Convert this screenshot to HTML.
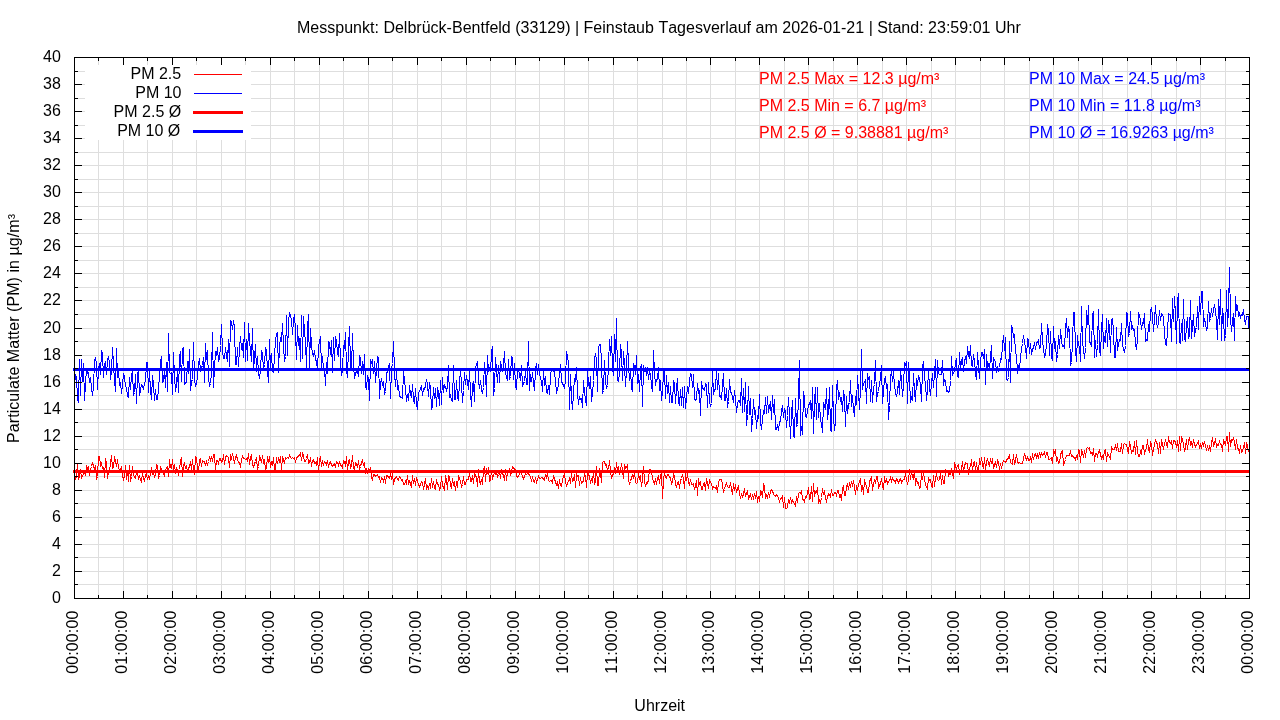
<!DOCTYPE html><html><head><meta charset="utf-8"><style>html,body{margin:0;padding:0;background:#fff;width:1280px;height:720px;overflow:hidden}svg{display:block;will-change:transform}text{font-family:"Liberation Sans",sans-serif;font-size:16px;font-kerning:none;font-feature-settings:"kern" 0}</style></head><body>
<svg width="1280" height="720" viewBox="0 0 1280 720">
<rect width="1280" height="720" fill="#fff"/>
<path d="M74.5 57.5V598.5M98.5 57.5V598.5M123.5 57.5V598.5M147.5 57.5V598.5M172.5 57.5V598.5M196.5 57.5V598.5M221.5 57.5V598.5M245.5 57.5V598.5M270.5 57.5V598.5M294.5 57.5V598.5M319.5 57.5V598.5M343.5 57.5V598.5M368.5 57.5V598.5M392.5 57.5V598.5M417.5 57.5V598.5M441.5 57.5V598.5M466.5 57.5V598.5M490.5 57.5V598.5M515.5 57.5V598.5M539.5 57.5V598.5M564.5 57.5V598.5M588.5 57.5V598.5M613.5 57.5V598.5M637.5 57.5V598.5M662.5 57.5V598.5M686.5 57.5V598.5M710.5 57.5V598.5M735.5 57.5V598.5M759.5 57.5V598.5M784.5 57.5V598.5M808.5 57.5V598.5M833.5 57.5V598.5M857.5 57.5V598.5M882.5 57.5V598.5M906.5 57.5V598.5M931.5 57.5V598.5M955.5 57.5V598.5M980.5 57.5V598.5M1004.5 57.5V598.5M1029.5 57.5V598.5M1053.5 57.5V598.5M1078.5 57.5V598.5M1102.5 57.5V598.5M1127.5 57.5V598.5M1151.5 57.5V598.5M1176.5 57.5V598.5M1200.5 57.5V598.5M1225.5 57.5V598.5M1249.5 57.5V598.5M74.5 598.5H1249.5M74.5 584.5H1249.5M74.5 571.5H1249.5M74.5 557.5H1249.5M74.5 544.5H1249.5M74.5 530.5H1249.5M74.5 517.5H1249.5M74.5 503.5H1249.5M74.5 490.5H1249.5M74.5 476.5H1249.5M74.5 463.5H1249.5M74.5 449.5H1249.5M74.5 436.5H1249.5M74.5 422.5H1249.5M74.5 409.5H1249.5M74.5 395.5H1249.5M74.5 382.5H1249.5M74.5 368.5H1249.5M74.5 355.5H1249.5M74.5 341.5H1249.5M74.5 328.5H1249.5M74.5 314.5H1249.5M74.5 300.5H1249.5M74.5 287.5H1249.5M74.5 273.5H1249.5M74.5 260.5H1249.5M74.5 246.5H1249.5M74.5 233.5H1249.5M74.5 219.5H1249.5M74.5 206.5H1249.5M74.5 192.5H1249.5M74.5 179.5H1249.5M74.5 165.5H1249.5M74.5 152.5H1249.5M74.5 138.5H1249.5M74.5 125.5H1249.5M74.5 111.5H1249.5M74.5 98.5H1249.5M74.5 84.5H1249.5M74.5 71.5H1249.5M74.5 57.5H1249.5" stroke="#dedede" stroke-width="1" fill="none" shape-rendering="crispEdges"/>
<polyline points="74.5,475.5 75.5,479.5 76.5,475.5 77.5,463.5 78.5,479.5 79.5,476.5 80.5,469.5 81.5,477.5 82.5,475.5 83.5,474.5 84.5,471.5 85.5,475.5 86.5,465.5 87.5,469.5 88.5,466.5 89.5,475.5 90.5,469.5 91.5,466.5 92.5,462.5 93.5,466.5 94.5,468.5 95.5,466.5 96.5,479.5 97.5,476.5 98.5,456.5 99.5,456.5 100.5,465.5 101.5,463.5 102.5,468.5 103.5,467.5 104.5,477.5 105.5,458.5 106.5,463.5 107.5,478.5 108.5,471.5 109.5,472.5 110.5,462.5 111.5,455.5 112.5,468.5 113.5,467.5 114.5,456.5 115.5,461.5 116.5,466.5 117.5,459.5 118.5,467.5 119.5,470.5 120.5,470.5 121.5,466.5 122.5,476.5 123.5,479.5 124.5,475.5 125.5,465.5 126.5,479.5 127.5,470.5 128.5,481.5 129.5,465.5 130.5,481.5 131.5,476.5 132.5,466.5 133.5,474.5 134.5,477.5 135.5,478.5 136.5,472.5 137.5,472.5 138.5,479.5 139.5,476.5 140.5,479.5 141.5,481.5 142.5,473.5 143.5,478.5 144.5,481.5 145.5,475.5 146.5,473.5 147.5,479.5 148.5,476.5 149.5,479.5 150.5,473.5 151.5,467.5 152.5,473.5 153.5,471.5 154.5,477.5 155.5,473.5 156.5,464.5 157.5,465.5 158.5,477.5 159.5,475.5 160.5,466.5 161.5,469.5 162.5,472.5 163.5,472.5 164.5,476.5 165.5,470.5 166.5,467.5 167.5,466.5 168.5,476.5 169.5,459.5 170.5,467.5 171.5,468.5 172.5,459.5 173.5,470.5 174.5,464.5 175.5,473.5 176.5,467.5 177.5,471.5 178.5,474.5 179.5,469.5 180.5,461.5 181.5,457.5 182.5,476.5 183.5,466.5 184.5,462.5 185.5,468.5 186.5,465.5 187.5,472.5 188.5,467.5 189.5,467.5 190.5,461.5 191.5,469.5 192.5,459.5 193.5,469.5 194.5,474.5 195.5,456.5 196.5,457.5 197.5,468.5 198.5,472.5 199.5,459.5 200.5,458.5 201.5,466.5 202.5,460.5 203.5,461.5 204.5,461.5 205.5,465.5 206.5,461.5 207.5,464.5 208.5,461.5 209.5,457.5 210.5,460.5 211.5,456.5 212.5,461.5 213.5,454.5 214.5,454.5 215.5,470.5 216.5,460.5 217.5,460.5 218.5,463.5 219.5,458.5 220.5,458.5 221.5,462.5 222.5,461.5 223.5,454.5 224.5,464.5 225.5,457.5 226.5,455.5 227.5,456.5 228.5,457.5 229.5,467.5 230.5,454.5 231.5,459.5 232.5,453.5 233.5,458.5 234.5,463.5 235.5,457.5 236.5,455.5 237.5,459.5 238.5,462.5 239.5,462.5 240.5,467.5 241.5,459.5 242.5,456.5 243.5,458.5 244.5,458.5 245.5,459.5 246.5,458.5 247.5,460.5 248.5,453.5 249.5,464.5 250.5,457.5 251.5,455.5 252.5,463.5 253.5,467.5 254.5,463.5 255.5,461.5 256.5,457.5 257.5,469.5 258.5,466.5 259.5,456.5 260.5,458.5 261.5,462.5 262.5,455.5 263.5,462.5 264.5,460.5 265.5,469.5 266.5,467.5 267.5,456.5 268.5,462.5 269.5,456.5 270.5,467.5 271.5,462.5 272.5,464.5 273.5,457.5 274.5,469.5 275.5,469.5 276.5,457.5 277.5,463.5 278.5,458.5 279.5,461.5 280.5,456.5 281.5,469.5 282.5,457.5 283.5,459.5 284.5,463.5 285.5,457.5 286.5,458.5 287.5,457.5 288.5,458.5 289.5,455.5 290.5,457.5 291.5,458.5 292.5,457.5 293.5,458.5 294.5,457.5 295.5,462.5 296.5,457.5 297.5,457.5 298.5,455.5 299.5,455.5 300.5,452.5 301.5,460.5 302.5,453.5 303.5,455.5 304.5,461.5 305.5,461.5 306.5,458.5 307.5,454.5 308.5,463.5 309.5,462.5 310.5,457.5 311.5,466.5 312.5,460.5 313.5,459.5 314.5,463.5 315.5,462.5 316.5,464.5 317.5,457.5 318.5,471.5 319.5,460.5 320.5,456.5 321.5,466.5 322.5,461.5 323.5,464.5 324.5,461.5 325.5,462.5 326.5,464.5 327.5,460.5 328.5,467.5 329.5,462.5 330.5,461.5 331.5,465.5 332.5,466.5 333.5,464.5 334.5,463.5 335.5,467.5 336.5,461.5 337.5,462.5 338.5,465.5 339.5,461.5 340.5,465.5 341.5,465.5 342.5,468.5 343.5,460.5 344.5,461.5 345.5,466.5 346.5,456.5 347.5,471.5 348.5,460.5 349.5,459.5 350.5,468.5 351.5,464.5 352.5,455.5 353.5,467.5 354.5,469.5 355.5,462.5 356.5,463.5 357.5,467.5 358.5,460.5 359.5,468.5 360.5,466.5 361.5,462.5 362.5,459.5 363.5,465.5 364.5,462.5 365.5,473.5 366.5,468.5 367.5,472.5 368.5,469.5 369.5,471.5 370.5,467.5 371.5,476.5 372.5,480.5 373.5,474.5 374.5,474.5 375.5,476.5 376.5,475.5 377.5,474.5 378.5,477.5 379.5,476.5 380.5,482.5 381.5,477.5 382.5,478.5 383.5,481.5 384.5,476.5 385.5,483.5 386.5,475.5 387.5,475.5 388.5,477.5 389.5,478.5 390.5,473.5 391.5,479.5 392.5,473.5 393.5,484.5 394.5,479.5 395.5,477.5 396.5,476.5 397.5,479.5 398.5,480.5 399.5,476.5 400.5,477.5 401.5,480.5 402.5,479.5 403.5,484.5 404.5,484.5 405.5,481.5 406.5,483.5 407.5,475.5 408.5,483.5 409.5,481.5 410.5,483.5 411.5,487.5 412.5,475.5 413.5,483.5 414.5,478.5 415.5,485.5 416.5,477.5 417.5,481.5 418.5,484.5 419.5,486.5 420.5,484.5 421.5,481.5 422.5,482.5 423.5,489.5 424.5,484.5 425.5,478.5 426.5,488.5 427.5,486.5 428.5,489.5 429.5,483.5 430.5,488.5 431.5,478.5 432.5,487.5 433.5,481.5 434.5,488.5 435.5,489.5 436.5,479.5 437.5,484.5 438.5,484.5 439.5,489.5 440.5,487.5 441.5,476.5 442.5,485.5 443.5,487.5 444.5,490.5 445.5,475.5 446.5,480.5 447.5,489.5 448.5,475.5 449.5,476.5 450.5,485.5 451.5,487.5 452.5,478.5 453.5,484.5 454.5,482.5 455.5,490.5 456.5,481.5 457.5,487.5 458.5,475.5 459.5,479.5 460.5,480.5 461.5,487.5 462.5,484.5 463.5,476.5 464.5,484.5 465.5,484.5 466.5,479.5 467.5,479.5 468.5,479.5 469.5,472.5 470.5,481.5 471.5,481.5 472.5,475.5 473.5,483.5 474.5,472.5 475.5,476.5 476.5,476.5 477.5,486.5 478.5,469.5 479.5,481.5 480.5,483.5 481.5,479.5 482.5,484.5 483.5,470.5 484.5,466.5 485.5,481.5 486.5,468.5 487.5,473.5 488.5,467.5 489.5,481.5 490.5,480.5 491.5,470.5 492.5,479.5 493.5,474.5 494.5,473.5 495.5,474.5 496.5,472.5 497.5,476.5 498.5,474.5 499.5,470.5 500.5,478.5 501.5,469.5 502.5,474.5 503.5,474.5 504.5,480.5 505.5,469.5 506.5,480.5 507.5,472.5 508.5,471.5 509.5,468.5 510.5,475.5 511.5,472.5 512.5,466.5 513.5,467.5 514.5,469.5 515.5,469.5 516.5,476.5 517.5,477.5 518.5,475.5 519.5,474.5 520.5,471.5 521.5,473.5 522.5,476.5 523.5,478.5 524.5,476.5 525.5,473.5 526.5,474.5 527.5,473.5 528.5,473.5 529.5,475.5 530.5,476.5 531.5,481.5 532.5,476.5 533.5,481.5 534.5,482.5 535.5,477.5 536.5,482.5 537.5,479.5 538.5,476.5 539.5,478.5 540.5,478.5 541.5,477.5 542.5,477.5 543.5,479.5 544.5,480.5 545.5,474.5 546.5,478.5 547.5,472.5 548.5,480.5 549.5,481.5 550.5,480.5 551.5,480.5 552.5,482.5 553.5,476.5 554.5,478.5 555.5,482.5 556.5,484.5 557.5,482.5 558.5,488.5 559.5,479.5 560.5,485.5 561.5,486.5 562.5,479.5 563.5,476.5 564.5,474.5 565.5,481.5 566.5,486.5 567.5,482.5 568.5,481.5 569.5,478.5 570.5,483.5 571.5,473.5 572.5,481.5 573.5,480.5 574.5,474.5 575.5,487.5 576.5,474.5 577.5,476.5 578.5,475.5 579.5,485.5 580.5,477.5 581.5,483.5 582.5,482.5 583.5,480.5 584.5,474.5 585.5,476.5 586.5,487.5 587.5,472.5 588.5,474.5 589.5,476.5 590.5,483.5 591.5,478.5 592.5,482.5 593.5,470.5 594.5,484.5 595.5,480.5 596.5,466.5 597.5,485.5 598.5,485.5 599.5,468.5 600.5,472.5 601.5,482.5 602.5,462.5 603.5,461.5 604.5,461.5 605.5,465.5 606.5,464.5 607.5,471.5 608.5,469.5 609.5,460.5 610.5,471.5 611.5,477.5 612.5,475.5 613.5,473.5 614.5,467.5 615.5,473.5 616.5,462.5 617.5,471.5 618.5,466.5 619.5,474.5 620.5,471.5 621.5,463.5 622.5,470.5 623.5,478.5 624.5,464.5 625.5,468.5 626.5,467.5 627.5,464.5 628.5,480.5 629.5,483.5 630.5,481.5 631.5,477.5 632.5,475.5 633.5,478.5 634.5,471.5 635.5,482.5 636.5,483.5 637.5,482.5 638.5,473.5 639.5,478.5 640.5,476.5 641.5,486.5 642.5,479.5 643.5,466.5 644.5,480.5 645.5,486.5 646.5,482.5 647.5,483.5 648.5,479.5 649.5,469.5 650.5,469.5 651.5,471.5 652.5,478.5 653.5,481.5 654.5,483.5 655.5,478.5 656.5,484.5 657.5,478.5 658.5,476.5 659.5,483.5 660.5,475.5 661.5,473.5 662.5,498.5 663.5,479.5 664.5,473.5 665.5,477.5 666.5,478.5 667.5,474.5 668.5,474.5 669.5,477.5 670.5,477.5 671.5,484.5 672.5,481.5 673.5,474.5 674.5,476.5 675.5,483.5 676.5,487.5 677.5,482.5 678.5,481.5 679.5,488.5 680.5,480.5 681.5,478.5 682.5,474.5 683.5,478.5 684.5,488.5 685.5,473.5 686.5,480.5 687.5,473.5 688.5,481.5 689.5,485.5 690.5,479.5 691.5,484.5 692.5,484.5 693.5,483.5 694.5,489.5 695.5,485.5 696.5,480.5 697.5,495.5 698.5,478.5 699.5,484.5 700.5,481.5 701.5,489.5 702.5,489.5 703.5,483.5 704.5,482.5 705.5,490.5 706.5,478.5 707.5,482.5 708.5,488.5 709.5,480.5 710.5,482.5 711.5,483.5 712.5,488.5 713.5,486.5 714.5,487.5 715.5,488.5 716.5,486.5 717.5,492.5 718.5,482.5 719.5,479.5 720.5,479.5 721.5,479.5 722.5,484.5 723.5,492.5 724.5,489.5 725.5,485.5 726.5,483.5 727.5,486.5 728.5,487.5 729.5,487.5 730.5,482.5 731.5,488.5 732.5,494.5 733.5,483.5 734.5,490.5 735.5,484.5 736.5,492.5 737.5,488.5 738.5,485.5 739.5,493.5 740.5,498.5 741.5,493.5 742.5,497.5 743.5,493.5 744.5,488.5 745.5,496.5 746.5,493.5 747.5,490.5 748.5,498.5 749.5,496.5 750.5,494.5 751.5,499.5 752.5,494.5 753.5,499.5 754.5,493.5 755.5,498.5 756.5,491.5 757.5,502.5 758.5,496.5 759.5,501.5 760.5,490.5 761.5,491.5 762.5,497.5 763.5,484.5 764.5,486.5 765.5,498.5 766.5,495.5 767.5,498.5 768.5,492.5 769.5,497.5 770.5,491.5 771.5,489.5 772.5,490.5 773.5,494.5 774.5,495.5 775.5,496.5 776.5,494.5 777.5,495.5 778.5,498.5 779.5,501.5 780.5,498.5 781.5,498.5 782.5,496.5 783.5,507.5 784.5,497.5 785.5,508.5 786.5,508.5 787.5,507.5 788.5,499.5 789.5,502.5 790.5,497.5 791.5,502.5 792.5,500.5 793.5,502.5 794.5,503.5 795.5,505.5 796.5,496.5 797.5,502.5 798.5,493.5 799.5,492.5 800.5,493.5 801.5,490.5 802.5,499.5 803.5,499.5 804.5,501.5 805.5,496.5 806.5,497.5 807.5,492.5 808.5,487.5 809.5,499.5 810.5,498.5 811.5,486.5 812.5,501.5 813.5,483.5 814.5,496.5 815.5,491.5 816.5,492.5 817.5,487.5 818.5,502.5 819.5,500.5 820.5,503.5 821.5,497.5 822.5,488.5 823.5,494.5 824.5,490.5 825.5,498.5 826.5,501.5 827.5,497.5 828.5,493.5 829.5,494.5 830.5,496.5 831.5,489.5 832.5,495.5 833.5,495.5 834.5,492.5 835.5,492.5 836.5,495.5 837.5,490.5 838.5,490.5 839.5,497.5 840.5,494.5 841.5,500.5 842.5,488.5 843.5,485.5 844.5,495.5 845.5,495.5 846.5,487.5 847.5,483.5 848.5,489.5 849.5,482.5 850.5,487.5 851.5,481.5 852.5,486.5 853.5,480.5 854.5,486.5 855.5,494.5 856.5,485.5 857.5,490.5 858.5,483.5 859.5,482.5 860.5,478.5 861.5,491.5 862.5,485.5 863.5,494.5 864.5,479.5 865.5,484.5 866.5,485.5 867.5,492.5 868.5,492.5 869.5,481.5 870.5,479.5 871.5,477.5 872.5,490.5 873.5,483.5 874.5,480.5 875.5,483.5 876.5,476.5 877.5,476.5 878.5,487.5 879.5,485.5 880.5,483.5 881.5,478.5 882.5,485.5 883.5,489.5 884.5,476.5 885.5,482.5 886.5,479.5 887.5,483.5 888.5,481.5 889.5,480.5 890.5,477.5 891.5,481.5 892.5,478.5 893.5,480.5 894.5,480.5 895.5,482.5 896.5,478.5 897.5,479.5 898.5,483.5 899.5,479.5 900.5,478.5 901.5,482.5 902.5,480.5 903.5,479.5 904.5,479.5 905.5,472.5 906.5,480.5 907.5,483.5 908.5,480.5 909.5,469.5 910.5,479.5 911.5,471.5 912.5,476.5 913.5,478.5 914.5,470.5 915.5,485.5 916.5,478.5 917.5,483.5 918.5,482.5 919.5,488.5 920.5,487.5 921.5,472.5 922.5,479.5 923.5,473.5 924.5,478.5 925.5,485.5 926.5,486.5 927.5,489.5 928.5,477.5 929.5,480.5 930.5,479.5 931.5,486.5 932.5,487.5 933.5,475.5 934.5,486.5 935.5,477.5 936.5,474.5 937.5,479.5 938.5,480.5 939.5,479.5 940.5,472.5 941.5,484.5 942.5,475.5 943.5,483.5 944.5,483.5 945.5,469.5 946.5,470.5 947.5,470.5 948.5,475.5 949.5,473.5 950.5,474.5 951.5,468.5 952.5,473.5 953.5,478.5 954.5,462.5 955.5,466.5 956.5,468.5 957.5,465.5 958.5,464.5 959.5,473.5 960.5,471.5 961.5,468.5 962.5,461.5 963.5,472.5 964.5,466.5 965.5,462.5 966.5,463.5 967.5,463.5 968.5,474.5 969.5,467.5 970.5,466.5 971.5,459.5 972.5,471.5 973.5,462.5 974.5,461.5 975.5,470.5 976.5,462.5 977.5,470.5 978.5,471.5 979.5,458.5 980.5,464.5 981.5,457.5 982.5,464.5 983.5,468.5 984.5,457.5 985.5,470.5 986.5,462.5 987.5,458.5 988.5,463.5 989.5,466.5 990.5,458.5 991.5,463.5 992.5,458.5 993.5,468.5 994.5,464.5 995.5,462.5 996.5,467.5 997.5,460.5 998.5,462.5 999.5,469.5 1000.5,463.5 1001.5,468.5 1002.5,463.5 1003.5,460.5 1004.5,461.5 1005.5,462.5 1006.5,460.5 1007.5,458.5 1008.5,458.5 1009.5,454.5 1010.5,462.5 1011.5,463.5 1012.5,464.5 1013.5,454.5 1014.5,464.5 1015.5,460.5 1016.5,454.5 1017.5,461.5 1018.5,463.5 1019.5,462.5 1020.5,463.5 1021.5,463.5 1022.5,463.5 1023.5,459.5 1024.5,453.5 1025.5,456.5 1026.5,460.5 1027.5,456.5 1028.5,460.5 1029.5,460.5 1030.5,457.5 1031.5,462.5 1032.5,453.5 1033.5,459.5 1034.5,454.5 1035.5,453.5 1036.5,457.5 1037.5,454.5 1038.5,458.5 1039.5,452.5 1040.5,456.5 1041.5,453.5 1042.5,455.5 1043.5,454.5 1044.5,452.5 1045.5,457.5 1046.5,452.5 1047.5,452.5 1048.5,459.5 1049.5,459.5 1050.5,458.5 1051.5,457.5 1052.5,463.5 1053.5,450.5 1054.5,452.5 1055.5,450.5 1056.5,461.5 1057.5,458.5 1058.5,463.5 1059.5,462.5 1060.5,455.5 1061.5,451.5 1062.5,450.5 1063.5,465.5 1064.5,462.5 1065.5,459.5 1066.5,455.5 1067.5,455.5 1068.5,455.5 1069.5,455.5 1070.5,450.5 1071.5,456.5 1072.5,455.5 1073.5,457.5 1074.5,457.5 1075.5,459.5 1076.5,455.5 1077.5,459.5 1078.5,449.5 1079.5,450.5 1080.5,462.5 1081.5,450.5 1082.5,452.5 1083.5,457.5 1084.5,450.5 1085.5,457.5 1086.5,448.5 1087.5,447.5 1088.5,448.5 1089.5,447.5 1090.5,453.5 1091.5,452.5 1092.5,455.5 1093.5,448.5 1094.5,461.5 1095.5,453.5 1096.5,453.5 1097.5,456.5 1098.5,452.5 1099.5,450.5 1100.5,454.5 1101.5,458.5 1102.5,456.5 1103.5,458.5 1104.5,450.5 1105.5,449.5 1106.5,461.5 1107.5,452.5 1108.5,455.5 1109.5,456.5 1110.5,459.5 1111.5,446.5 1112.5,449.5 1113.5,449.5 1114.5,449.5 1115.5,444.5 1116.5,450.5 1117.5,443.5 1118.5,451.5 1119.5,451.5 1120.5,451.5 1121.5,443.5 1122.5,453.5 1123.5,444.5 1124.5,443.5 1125.5,444.5 1126.5,444.5 1127.5,449.5 1128.5,453.5 1129.5,441.5 1130.5,446.5 1131.5,453.5 1132.5,450.5 1133.5,451.5 1134.5,441.5 1135.5,454.5 1136.5,440.5 1137.5,450.5 1138.5,456.5 1139.5,456.5 1140.5,451.5 1141.5,453.5 1142.5,445.5 1143.5,445.5 1144.5,454.5 1145.5,449.5 1146.5,448.5 1147.5,439.5 1148.5,449.5 1149.5,451.5 1150.5,442.5 1151.5,444.5 1152.5,455.5 1153.5,448.5 1154.5,445.5 1155.5,439.5 1156.5,442.5 1157.5,444.5 1158.5,453.5 1159.5,442.5 1160.5,453.5 1161.5,439.5 1162.5,443.5 1163.5,449.5 1164.5,443.5 1165.5,440.5 1166.5,443.5 1167.5,447.5 1168.5,436.5 1169.5,442.5 1170.5,443.5 1171.5,441.5 1172.5,448.5 1173.5,440.5 1174.5,440.5 1175.5,442.5 1176.5,447.5 1177.5,440.5 1178.5,451.5 1179.5,436.5 1180.5,450.5 1181.5,436.5 1182.5,440.5 1183.5,443.5 1184.5,451.5 1185.5,447.5 1186.5,439.5 1187.5,449.5 1188.5,440.5 1189.5,437.5 1190.5,444.5 1191.5,442.5 1192.5,447.5 1193.5,439.5 1194.5,444.5 1195.5,446.5 1196.5,444.5 1197.5,443.5 1198.5,440.5 1199.5,448.5 1200.5,444.5 1201.5,447.5 1202.5,443.5 1203.5,445.5 1204.5,441.5 1205.5,446.5 1206.5,449.5 1207.5,446.5 1208.5,449.5 1209.5,446.5 1210.5,451.5 1211.5,443.5 1212.5,437.5 1213.5,446.5 1214.5,443.5 1215.5,438.5 1216.5,446.5 1217.5,444.5 1218.5,445.5 1219.5,441.5 1220.5,444.5 1221.5,444.5 1222.5,451.5 1223.5,439.5 1224.5,442.5 1225.5,445.5 1226.5,436.5 1227.5,436.5 1228.5,451.5 1229.5,432.5 1230.5,446.5 1231.5,439.5 1232.5,440.5 1233.5,438.5 1234.5,441.5 1235.5,449.5 1236.5,439.5 1237.5,448.5 1238.5,448.5 1239.5,453.5 1240.5,445.5 1241.5,452.5 1242.5,451.5 1243.5,447.5 1244.5,442.5 1245.5,453.5 1246.5,442.5 1247.5,446.5 1248.5,451.5 1249.5,452.5" fill="none" stroke="#ff0000" stroke-width="1" shape-rendering="crispEdges"/>
<polyline points="74.5,367.5 75.5,379.5 76.5,376.5 77.5,399.5 78.5,402.5 79.5,359.5 80.5,395.5 81.5,359.5 82.5,381.5 83.5,363.5 84.5,400.5 85.5,383.5 86.5,369.5 87.5,373.5 88.5,372.5 89.5,382.5 90.5,377.5 91.5,387.5 92.5,395.5 93.5,387.5 94.5,360.5 95.5,357.5 96.5,364.5 97.5,389.5 98.5,369.5 99.5,363.5 100.5,374.5 101.5,350.5 102.5,353.5 103.5,377.5 104.5,364.5 105.5,361.5 106.5,374.5 107.5,359.5 108.5,357.5 109.5,361.5 110.5,379.5 111.5,371.5 112.5,347.5 113.5,364.5 114.5,380.5 115.5,391.5 116.5,348.5 117.5,377.5 118.5,369.5 119.5,385.5 120.5,382.5 121.5,393.5 122.5,384.5 123.5,374.5 124.5,376.5 125.5,386.5 126.5,387.5 127.5,396.5 128.5,397.5 129.5,377.5 130.5,389.5 131.5,374.5 132.5,372.5 133.5,394.5 134.5,392.5 135.5,374.5 136.5,403.5 137.5,373.5 138.5,370.5 139.5,395.5 140.5,390.5 141.5,384.5 142.5,385.5 143.5,389.5 144.5,382.5 145.5,381.5 146.5,362.5 147.5,362.5 148.5,392.5 149.5,371.5 150.5,390.5 151.5,399.5 152.5,375.5 153.5,384.5 154.5,400.5 155.5,389.5 156.5,399.5 157.5,399.5 158.5,389.5 159.5,374.5 160.5,361.5 161.5,356.5 162.5,382.5 163.5,381.5 164.5,369.5 165.5,387.5 166.5,362.5 167.5,391.5 168.5,333.5 169.5,372.5 170.5,373.5 171.5,372.5 172.5,394.5 173.5,352.5 174.5,376.5 175.5,391.5 176.5,384.5 177.5,370.5 178.5,392.5 179.5,356.5 180.5,351.5 181.5,381.5 182.5,348.5 183.5,347.5 184.5,384.5 185.5,382.5 186.5,382.5 187.5,361.5 188.5,373.5 189.5,349.5 190.5,390.5 191.5,381.5 192.5,379.5 193.5,342.5 194.5,378.5 195.5,386.5 196.5,383.5 197.5,376.5 198.5,364.5 199.5,358.5 200.5,371.5 201.5,367.5 202.5,365.5 203.5,357.5 204.5,382.5 205.5,343.5 206.5,359.5 207.5,350.5 208.5,378.5 209.5,385.5 210.5,383.5 211.5,373.5 212.5,332.5 213.5,387.5 214.5,367.5 215.5,352.5 216.5,354.5 217.5,347.5 218.5,361.5 219.5,358.5 220.5,345.5 221.5,324.5 222.5,351.5 223.5,358.5 224.5,358.5 225.5,347.5 226.5,355.5 227.5,361.5 228.5,339.5 229.5,366.5 230.5,320.5 231.5,322.5 232.5,329.5 233.5,320.5 234.5,327.5 235.5,364.5 236.5,364.5 237.5,347.5 238.5,366.5 239.5,348.5 240.5,336.5 241.5,349.5 242.5,343.5 243.5,357.5 244.5,322.5 245.5,361.5 246.5,339.5 247.5,360.5 248.5,323.5 249.5,341.5 250.5,350.5 251.5,361.5 252.5,328.5 253.5,370.5 254.5,358.5 255.5,344.5 256.5,371.5 257.5,356.5 258.5,373.5 259.5,378.5 260.5,369.5 261.5,350.5 262.5,353.5 263.5,369.5 264.5,364.5 265.5,348.5 266.5,350.5 267.5,370.5 268.5,382.5 269.5,339.5 270.5,370.5 271.5,353.5 272.5,371.5 273.5,372.5 274.5,356.5 275.5,340.5 276.5,334.5 277.5,332.5 278.5,372.5 279.5,345.5 280.5,338.5 281.5,340.5 282.5,323.5 283.5,346.5 284.5,361.5 285.5,356.5 286.5,315.5 287.5,355.5 288.5,321.5 289.5,313.5 290.5,315.5 291.5,319.5 292.5,334.5 293.5,319.5 294.5,314.5 295.5,331.5 296.5,359.5 297.5,325.5 298.5,345.5 299.5,338.5 300.5,361.5 301.5,315.5 302.5,358.5 303.5,316.5 304.5,330.5 305.5,342.5 306.5,367.5 307.5,328.5 308.5,314.5 309.5,368.5 310.5,328.5 311.5,345.5 312.5,353.5 313.5,356.5 314.5,350.5 315.5,359.5 316.5,361.5 317.5,369.5 318.5,346.5 319.5,341.5 320.5,336.5 321.5,368.5 322.5,356.5 323.5,368.5 324.5,368.5 325.5,385.5 326.5,362.5 327.5,373.5 328.5,341.5 329.5,343.5 330.5,354.5 331.5,340.5 332.5,372.5 333.5,337.5 334.5,360.5 335.5,336.5 336.5,340.5 337.5,353.5 338.5,355.5 339.5,333.5 340.5,362.5 341.5,375.5 342.5,370.5 343.5,345.5 344.5,347.5 345.5,332.5 346.5,369.5 347.5,377.5 348.5,347.5 349.5,326.5 350.5,364.5 351.5,370.5 352.5,333.5 353.5,365.5 354.5,378.5 355.5,373.5 356.5,371.5 357.5,370.5 358.5,376.5 359.5,356.5 360.5,358.5 361.5,373.5 362.5,361.5 363.5,374.5 364.5,354.5 365.5,386.5 366.5,389.5 367.5,375.5 368.5,378.5 369.5,400.5 370.5,359.5 371.5,362.5 372.5,359.5 373.5,373.5 374.5,361.5 375.5,382.5 376.5,369.5 377.5,356.5 378.5,357.5 379.5,398.5 380.5,382.5 381.5,379.5 382.5,384.5 383.5,382.5 384.5,393.5 385.5,391.5 386.5,374.5 387.5,370.5 388.5,366.5 389.5,363.5 390.5,398.5 391.5,369.5 392.5,363.5 393.5,341.5 394.5,372.5 395.5,386.5 396.5,371.5 397.5,388.5 398.5,386.5 399.5,395.5 400.5,397.5 401.5,397.5 402.5,398.5 403.5,371.5 404.5,380.5 405.5,388.5 406.5,401.5 407.5,394.5 408.5,400.5 409.5,385.5 410.5,394.5 411.5,397.5 412.5,384.5 413.5,399.5 414.5,403.5 415.5,388.5 416.5,404.5 417.5,409.5 418.5,392.5 419.5,391.5 420.5,388.5 421.5,385.5 422.5,395.5 423.5,388.5 424.5,389.5 425.5,385.5 426.5,379.5 427.5,384.5 428.5,396.5 429.5,382.5 430.5,387.5 431.5,409.5 432.5,405.5 433.5,387.5 434.5,398.5 435.5,388.5 436.5,406.5 437.5,387.5 438.5,392.5 439.5,405.5 440.5,380.5 441.5,404.5 442.5,377.5 443.5,392.5 444.5,384.5 445.5,387.5 446.5,390.5 447.5,386.5 448.5,365.5 449.5,397.5 450.5,395.5 451.5,400.5 452.5,401.5 453.5,365.5 454.5,399.5 455.5,399.5 456.5,380.5 457.5,396.5 458.5,400.5 459.5,381.5 460.5,370.5 461.5,383.5 462.5,402.5 463.5,390.5 464.5,372.5 465.5,384.5 466.5,375.5 467.5,382.5 468.5,389.5 469.5,370.5 470.5,392.5 471.5,406.5 472.5,385.5 473.5,381.5 474.5,401.5 475.5,366.5 476.5,365.5 477.5,361.5 478.5,380.5 479.5,388.5 480.5,380.5 481.5,389.5 482.5,393.5 483.5,387.5 484.5,362.5 485.5,373.5 486.5,396.5 487.5,355.5 488.5,371.5 489.5,367.5 490.5,371.5 491.5,352.5 492.5,346.5 493.5,395.5 494.5,388.5 495.5,357.5 496.5,370.5 497.5,382.5 498.5,365.5 499.5,382.5 500.5,361.5 501.5,366.5 502.5,371.5 503.5,365.5 504.5,351.5 505.5,373.5 506.5,376.5 507.5,380.5 508.5,359.5 509.5,378.5 510.5,376.5 511.5,356.5 512.5,357.5 513.5,379.5 514.5,363.5 515.5,385.5 516.5,389.5 517.5,368.5 518.5,368.5 519.5,374.5 520.5,380.5 521.5,365.5 522.5,385.5 523.5,383.5 524.5,381.5 525.5,371.5 526.5,384.5 527.5,384.5 528.5,341.5 529.5,390.5 530.5,374.5 531.5,381.5 532.5,372.5 533.5,382.5 534.5,390.5 535.5,369.5 536.5,363.5 537.5,374.5 538.5,364.5 539.5,371.5 540.5,379.5 541.5,380.5 542.5,391.5 543.5,369.5 544.5,385.5 545.5,376.5 546.5,392.5 547.5,393.5 548.5,385.5 549.5,394.5 550.5,376.5 551.5,368.5 552.5,369.5 553.5,369.5 554.5,373.5 555.5,379.5 556.5,393.5 557.5,388.5 558.5,385.5 559.5,371.5 560.5,364.5 561.5,381.5 562.5,383.5 563.5,385.5 564.5,388.5 565.5,380.5 566.5,351.5 567.5,356.5 568.5,363.5 569.5,409.5 570.5,374.5 571.5,397.5 572.5,409.5 573.5,392.5 574.5,378.5 575.5,381.5 576.5,367.5 577.5,392.5 578.5,404.5 579.5,396.5 580.5,399.5 581.5,398.5 582.5,407.5 583.5,380.5 584.5,392.5 585.5,399.5 586.5,405.5 587.5,370.5 588.5,383.5 589.5,388.5 590.5,376.5 591.5,401.5 592.5,393.5 593.5,380.5 594.5,357.5 595.5,354.5 596.5,359.5 597.5,391.5 598.5,347.5 599.5,344.5 600.5,344.5 601.5,361.5 602.5,393.5 603.5,390.5 604.5,360.5 605.5,382.5 606.5,387.5 607.5,385.5 608.5,364.5 609.5,339.5 610.5,355.5 611.5,336.5 612.5,368.5 613.5,375.5 614.5,334.5 615.5,361.5 616.5,318.5 617.5,380.5 618.5,381.5 619.5,372.5 620.5,344.5 621.5,353.5 622.5,380.5 623.5,351.5 624.5,364.5 625.5,386.5 626.5,369.5 627.5,341.5 628.5,364.5 629.5,380.5 630.5,369.5 631.5,388.5 632.5,391.5 633.5,363.5 634.5,366.5 635.5,374.5 636.5,355.5 637.5,383.5 638.5,374.5 639.5,391.5 640.5,368.5 641.5,364.5 642.5,406.5 643.5,365.5 644.5,370.5 645.5,368.5 646.5,375.5 647.5,367.5 648.5,379.5 649.5,370.5 650.5,374.5 651.5,385.5 652.5,391.5 653.5,350.5 654.5,372.5 655.5,385.5 656.5,379.5 657.5,379.5 658.5,367.5 659.5,390.5 660.5,380.5 661.5,400.5 662.5,391.5 663.5,372.5 664.5,370.5 665.5,398.5 666.5,375.5 667.5,393.5 668.5,382.5 669.5,402.5 670.5,386.5 671.5,402.5 672.5,402.5 673.5,381.5 674.5,383.5 675.5,403.5 676.5,388.5 677.5,378.5 678.5,402.5 679.5,404.5 680.5,389.5 681.5,405.5 682.5,387.5 683.5,407.5 684.5,386.5 685.5,408.5 686.5,397.5 687.5,386.5 688.5,393.5 689.5,381.5 690.5,373.5 691.5,374.5 692.5,387.5 693.5,374.5 694.5,398.5 695.5,400.5 696.5,399.5 697.5,383.5 698.5,392.5 699.5,390.5 700.5,415.5 701.5,381.5 702.5,387.5 703.5,389.5 704.5,390.5 705.5,383.5 706.5,384.5 707.5,407.5 708.5,382.5 709.5,402.5 710.5,405.5 711.5,403.5 712.5,371.5 713.5,394.5 714.5,389.5 715.5,389.5 716.5,369.5 717.5,389.5 718.5,373.5 719.5,396.5 720.5,395.5 721.5,399.5 722.5,384.5 723.5,373.5 724.5,400.5 725.5,400.5 726.5,388.5 727.5,407.5 728.5,401.5 729.5,379.5 730.5,392.5 731.5,392.5 732.5,397.5 733.5,402.5 734.5,390.5 735.5,399.5 736.5,412.5 737.5,403.5 738.5,400.5 739.5,400.5 740.5,405.5 741.5,378.5 742.5,412.5 743.5,388.5 744.5,411.5 745.5,382.5 746.5,425.5 747.5,414.5 748.5,386.5 749.5,414.5 750.5,398.5 751.5,431.5 752.5,418.5 753.5,399.5 754.5,414.5 755.5,410.5 756.5,428.5 757.5,416.5 758.5,418.5 759.5,394.5 760.5,422.5 761.5,429.5 762.5,419.5 763.5,410.5 764.5,413.5 765.5,397.5 766.5,413.5 767.5,396.5 768.5,412.5 769.5,406.5 770.5,401.5 771.5,419.5 772.5,395.5 773.5,412.5 774.5,399.5 775.5,429.5 776.5,429.5 777.5,424.5 778.5,430.5 779.5,421.5 780.5,421.5 781.5,410.5 782.5,405.5 783.5,417.5 784.5,409.5 785.5,411.5 786.5,427.5 787.5,415.5 788.5,397.5 789.5,415.5 790.5,438.5 791.5,414.5 792.5,400.5 793.5,436.5 794.5,437.5 795.5,398.5 796.5,426.5 797.5,424.5 798.5,396.5 799.5,360.5 800.5,435.5 801.5,426.5 802.5,434.5 803.5,391.5 804.5,398.5 805.5,416.5 806.5,417.5 807.5,411.5 808.5,404.5 809.5,404.5 810.5,400.5 811.5,418.5 812.5,387.5 813.5,433.5 814.5,401.5 815.5,387.5 816.5,419.5 817.5,387.5 818.5,417.5 819.5,403.5 820.5,420.5 821.5,423.5 822.5,432.5 823.5,402.5 824.5,405.5 825.5,409.5 826.5,388.5 827.5,419.5 828.5,410.5 829.5,387.5 830.5,429.5 831.5,431.5 832.5,385.5 833.5,416.5 834.5,430.5 835.5,421.5 836.5,387.5 837.5,380.5 838.5,399.5 839.5,392.5 840.5,400.5 841.5,398.5 842.5,411.5 843.5,390.5 844.5,396.5 845.5,426.5 846.5,396.5 847.5,413.5 848.5,404.5 849.5,402.5 850.5,380.5 851.5,406.5 852.5,395.5 853.5,409.5 854.5,416.5 855.5,396.5 856.5,404.5 857.5,375.5 858.5,392.5 859.5,409.5 860.5,387.5 861.5,349.5 862.5,389.5 863.5,383.5 864.5,382.5 865.5,380.5 866.5,403.5 867.5,373.5 868.5,379.5 869.5,376.5 870.5,401.5 871.5,380.5 872.5,402.5 873.5,387.5 874.5,384.5 875.5,360.5 876.5,401.5 877.5,393.5 878.5,391.5 879.5,383.5 880.5,378.5 881.5,365.5 882.5,403.5 883.5,390.5 884.5,380.5 885.5,376.5 886.5,388.5 887.5,384.5 888.5,419.5 889.5,405.5 890.5,377.5 891.5,370.5 892.5,381.5 893.5,371.5 894.5,385.5 895.5,392.5 896.5,396.5 897.5,391.5 898.5,380.5 899.5,394.5 900.5,368.5 901.5,381.5 902.5,396.5 903.5,386.5 904.5,362.5 905.5,364.5 906.5,361.5 907.5,403.5 908.5,362.5 909.5,378.5 910.5,402.5 911.5,397.5 912.5,400.5 913.5,373.5 914.5,391.5 915.5,401.5 916.5,378.5 917.5,385.5 918.5,375.5 919.5,378.5 920.5,385.5 921.5,401.5 922.5,367.5 923.5,361.5 924.5,379.5 925.5,382.5 926.5,400.5 927.5,390.5 928.5,370.5 929.5,387.5 930.5,395.5 931.5,382.5 932.5,373.5 933.5,387.5 934.5,373.5 935.5,359.5 936.5,396.5 937.5,360.5 938.5,373.5 939.5,374.5 940.5,374.5 941.5,374.5 942.5,360.5 943.5,385.5 944.5,379.5 945.5,380.5 946.5,391.5 947.5,390.5 948.5,392.5 949.5,391.5 950.5,380.5 951.5,356.5 952.5,375.5 953.5,372.5 954.5,371.5 955.5,362.5 956.5,358.5 957.5,376.5 958.5,377.5 959.5,352.5 960.5,369.5 961.5,360.5 962.5,358.5 963.5,371.5 964.5,361.5 965.5,356.5 966.5,363.5 967.5,346.5 968.5,355.5 969.5,357.5 970.5,345.5 971.5,365.5 972.5,366.5 973.5,354.5 974.5,360.5 975.5,373.5 976.5,379.5 977.5,352.5 978.5,367.5 979.5,378.5 980.5,361.5 981.5,352.5 982.5,352.5 983.5,358.5 984.5,349.5 985.5,384.5 986.5,354.5 987.5,367.5 988.5,363.5 989.5,370.5 990.5,356.5 991.5,345.5 992.5,378.5 993.5,358.5 994.5,360.5 995.5,361.5 996.5,372.5 997.5,366.5 998.5,370.5 999.5,367.5 1000.5,358.5 1001.5,359.5 1002.5,345.5 1003.5,335.5 1004.5,350.5 1005.5,337.5 1006.5,379.5 1007.5,380.5 1008.5,377.5 1009.5,341.5 1010.5,382.5 1011.5,325.5 1012.5,328.5 1013.5,337.5 1014.5,334.5 1015.5,353.5 1016.5,354.5 1017.5,373.5 1018.5,366.5 1019.5,368.5 1020.5,357.5 1021.5,349.5 1022.5,343.5 1023.5,335.5 1024.5,342.5 1025.5,347.5 1026.5,358.5 1027.5,338.5 1028.5,339.5 1029.5,353.5 1030.5,343.5 1031.5,354.5 1032.5,349.5 1033.5,347.5 1034.5,342.5 1035.5,349.5 1036.5,342.5 1037.5,342.5 1038.5,340.5 1039.5,348.5 1040.5,347.5 1041.5,323.5 1042.5,340.5 1043.5,348.5 1044.5,357.5 1045.5,353.5 1046.5,345.5 1047.5,324.5 1048.5,330.5 1049.5,355.5 1050.5,331.5 1051.5,356.5 1052.5,360.5 1053.5,326.5 1054.5,348.5 1055.5,341.5 1056.5,361.5 1057.5,354.5 1058.5,335.5 1059.5,348.5 1060.5,329.5 1061.5,340.5 1062.5,346.5 1063.5,345.5 1064.5,348.5 1065.5,327.5 1066.5,318.5 1067.5,337.5 1068.5,326.5 1069.5,330.5 1070.5,365.5 1071.5,362.5 1072.5,341.5 1073.5,312.5 1074.5,312.5 1075.5,350.5 1076.5,361.5 1077.5,335.5 1078.5,345.5 1079.5,346.5 1080.5,361.5 1081.5,306.5 1082.5,343.5 1083.5,348.5 1084.5,358.5 1085.5,347.5 1086.5,310.5 1087.5,324.5 1088.5,305.5 1089.5,342.5 1090.5,342.5 1091.5,346.5 1092.5,315.5 1093.5,311.5 1094.5,357.5 1095.5,340.5 1096.5,356.5 1097.5,344.5 1098.5,309.5 1099.5,349.5 1100.5,355.5 1101.5,329.5 1102.5,314.5 1103.5,348.5 1104.5,336.5 1105.5,342.5 1106.5,318.5 1107.5,346.5 1108.5,320.5 1109.5,327.5 1110.5,352.5 1111.5,319.5 1112.5,318.5 1113.5,331.5 1114.5,357.5 1115.5,357.5 1116.5,327.5 1117.5,350.5 1118.5,344.5 1119.5,339.5 1120.5,340.5 1121.5,323.5 1122.5,345.5 1123.5,348.5 1124.5,352.5 1125.5,345.5 1126.5,312.5 1127.5,314.5 1128.5,336.5 1129.5,333.5 1130.5,311.5 1131.5,329.5 1132.5,326.5 1133.5,330.5 1134.5,329.5 1135.5,343.5 1136.5,349.5 1137.5,339.5 1138.5,312.5 1139.5,316.5 1140.5,319.5 1141.5,329.5 1142.5,322.5 1143.5,323.5 1144.5,313.5 1145.5,341.5 1146.5,339.5 1147.5,340.5 1148.5,324.5 1149.5,331.5 1150.5,310.5 1151.5,308.5 1152.5,315.5 1153.5,331.5 1154.5,319.5 1155.5,305.5 1156.5,321.5 1157.5,327.5 1158.5,322.5 1159.5,310.5 1160.5,320.5 1161.5,313.5 1162.5,314.5 1163.5,317.5 1164.5,333.5 1165.5,344.5 1166.5,345.5 1167.5,330.5 1168.5,313.5 1169.5,314.5 1170.5,314.5 1171.5,341.5 1172.5,298.5 1173.5,321.5 1174.5,296.5 1175.5,315.5 1176.5,343.5 1177.5,300.5 1178.5,293.5 1179.5,342.5 1180.5,343.5 1181.5,323.5 1182.5,340.5 1183.5,299.5 1184.5,337.5 1185.5,341.5 1186.5,325.5 1187.5,317.5 1188.5,338.5 1189.5,334.5 1190.5,300.5 1191.5,338.5 1192.5,326.5 1193.5,314.5 1194.5,336.5 1195.5,329.5 1196.5,327.5 1197.5,306.5 1198.5,329.5 1199.5,296.5 1200.5,314.5 1201.5,291.5 1202.5,291.5 1203.5,326.5 1204.5,318.5 1205.5,322.5 1206.5,330.5 1207.5,326.5 1208.5,301.5 1209.5,321.5 1210.5,318.5 1211.5,308.5 1212.5,316.5 1213.5,310.5 1214.5,304.5 1215.5,310.5 1216.5,320.5 1217.5,339.5 1218.5,299.5 1219.5,324.5 1220.5,289.5 1221.5,340.5 1222.5,308.5 1223.5,317.5 1224.5,340.5 1225.5,335.5 1226.5,290.5 1227.5,326.5 1228.5,310.5 1229.5,267.5 1230.5,318.5 1231.5,331.5 1232.5,321.5 1233.5,313.5 1234.5,340.5 1235.5,296.5 1236.5,310.5 1237.5,305.5 1238.5,316.5 1239.5,313.5 1240.5,317.5 1241.5,314.5 1242.5,315.5 1243.5,309.5 1244.5,319.5 1245.5,324.5 1246.5,316.5 1247.5,316.5 1248.5,316.5 1249.5,339.5" fill="none" stroke="#0000ff" stroke-width="1" shape-rendering="crispEdges"/>
<path d="M73 471.5H1250" stroke="#ff0000" stroke-width="3" shape-rendering="crispEdges"/>
<path d="M73 369.5H1250" stroke="#0000ff" stroke-width="3" shape-rendering="crispEdges"/>
<rect x="85" y="65" width="166" height="75" fill="#fff"/>
<path d="M74.5 599V591M74.5 57V65M98.5 599V595M98.5 57V61M123.5 599V591M123.5 57V65M147.5 599V595M147.5 57V61M172.5 599V591M172.5 57V65M196.5 599V595M196.5 57V61M221.5 599V591M221.5 57V65M245.5 599V595M245.5 57V61M270.5 599V591M270.5 57V65M294.5 599V595M294.5 57V61M319.5 599V591M319.5 57V65M343.5 599V595M343.5 57V61M368.5 599V591M368.5 57V65M392.5 599V595M392.5 57V61M417.5 599V591M417.5 57V65M441.5 599V595M441.5 57V61M466.5 599V591M466.5 57V65M490.5 599V595M490.5 57V61M515.5 599V591M515.5 57V65M539.5 599V595M539.5 57V61M564.5 599V591M564.5 57V65M588.5 599V595M588.5 57V61M613.5 599V591M613.5 57V65M637.5 599V595M637.5 57V61M662.5 599V591M662.5 57V65M686.5 599V595M686.5 57V61M710.5 599V591M710.5 57V65M735.5 599V595M735.5 57V61M759.5 599V591M759.5 57V65M784.5 599V595M784.5 57V61M808.5 599V591M808.5 57V65M833.5 599V595M833.5 57V61M857.5 599V591M857.5 57V65M882.5 599V595M882.5 57V61M906.5 599V591M906.5 57V65M931.5 599V595M931.5 57V61M955.5 599V591M955.5 57V65M980.5 599V595M980.5 57V61M1004.5 599V591M1004.5 57V65M1029.5 599V595M1029.5 57V61M1053.5 599V591M1053.5 57V65M1078.5 599V595M1078.5 57V61M1102.5 599V591M1102.5 57V65M1127.5 599V595M1127.5 57V61M1151.5 599V591M1151.5 57V65M1176.5 599V595M1176.5 57V61M1200.5 599V591M1200.5 57V65M1225.5 599V595M1225.5 57V61M1249.5 599V591M1249.5 57V65M74 598.5H82M1250 598.5H1242M74 584.5H78M1250 584.5H1246M74 571.5H82M1250 571.5H1242M74 557.5H78M1250 557.5H1246M74 544.5H82M1250 544.5H1242M74 530.5H78M1250 530.5H1246M74 517.5H82M1250 517.5H1242M74 503.5H78M1250 503.5H1246M74 490.5H82M1250 490.5H1242M74 476.5H78M1250 476.5H1246M74 463.5H82M1250 463.5H1242M74 449.5H78M1250 449.5H1246M74 436.5H82M1250 436.5H1242M74 422.5H78M1250 422.5H1246M74 409.5H82M1250 409.5H1242M74 395.5H78M1250 395.5H1246M74 382.5H82M1250 382.5H1242M74 368.5H78M1250 368.5H1246M74 355.5H82M1250 355.5H1242M74 341.5H78M1250 341.5H1246M74 328.5H82M1250 328.5H1242M74 314.5H78M1250 314.5H1246M74 300.5H82M1250 300.5H1242M74 287.5H78M1250 287.5H1246M74 273.5H82M1250 273.5H1242M74 260.5H78M1250 260.5H1246M74 246.5H82M1250 246.5H1242M74 233.5H78M1250 233.5H1246M74 219.5H82M1250 219.5H1242M74 206.5H78M1250 206.5H1246M74 192.5H82M1250 192.5H1242M74 179.5H78M1250 179.5H1246M74 165.5H82M1250 165.5H1242M74 152.5H78M1250 152.5H1246M74 138.5H82M1250 138.5H1242M74 125.5H78M1250 125.5H1246M74 111.5H82M1250 111.5H1242M74 98.5H78M1250 98.5H1246M74 84.5H82M1250 84.5H1242M74 71.5H78M1250 71.5H1246M74 57.5H82M1250 57.5H1242" stroke="#000" stroke-width="1" fill="none" shape-rendering="crispEdges"/>
<rect x="74.5" y="57.5" width="1175" height="541" stroke="#000" stroke-width="1" fill="none" shape-rendering="crispEdges"/>
<text x="60.8" y="602.7" text-anchor="end">0</text>
<text x="60.8" y="575.7" text-anchor="end">2</text>
<text x="60.8" y="548.7" text-anchor="end">4</text>
<text x="60.8" y="521.7" text-anchor="end">6</text>
<text x="60.8" y="494.7" text-anchor="end">8</text>
<text x="60.8" y="467.7" text-anchor="end">10</text>
<text x="60.8" y="440.7" text-anchor="end">12</text>
<text x="60.8" y="413.7" text-anchor="end">14</text>
<text x="60.8" y="386.7" text-anchor="end">16</text>
<text x="60.8" y="359.7" text-anchor="end">18</text>
<text x="60.8" y="332.7" text-anchor="end">20</text>
<text x="60.8" y="304.7" text-anchor="end">22</text>
<text x="60.8" y="277.7" text-anchor="end">24</text>
<text x="60.8" y="250.7" text-anchor="end">26</text>
<text x="60.8" y="223.7" text-anchor="end">28</text>
<text x="60.8" y="196.7" text-anchor="end">30</text>
<text x="60.8" y="169.7" text-anchor="end">32</text>
<text x="60.8" y="142.7" text-anchor="end">34</text>
<text x="60.8" y="115.7" text-anchor="end">36</text>
<text x="60.8" y="88.7" text-anchor="end">38</text>
<text x="60.8" y="61.7" text-anchor="end">40</text>
<text transform="translate(77.9 610.7) rotate(-90)" text-anchor="end" textLength="63.1" lengthAdjust="spacing">00:00:00</text>
<text transform="translate(126.9 610.7) rotate(-90)" text-anchor="end" textLength="63.1" lengthAdjust="spacing">01:00:00</text>
<text transform="translate(175.9 610.7) rotate(-90)" text-anchor="end" textLength="63.1" lengthAdjust="spacing">02:00:00</text>
<text transform="translate(224.9 610.7) rotate(-90)" text-anchor="end" textLength="63.1" lengthAdjust="spacing">03:00:00</text>
<text transform="translate(273.9 610.7) rotate(-90)" text-anchor="end" textLength="63.1" lengthAdjust="spacing">04:00:00</text>
<text transform="translate(322.9 610.7) rotate(-90)" text-anchor="end" textLength="63.1" lengthAdjust="spacing">05:00:00</text>
<text transform="translate(371.9 610.7) rotate(-90)" text-anchor="end" textLength="63.1" lengthAdjust="spacing">06:00:00</text>
<text transform="translate(420.9 610.7) rotate(-90)" text-anchor="end" textLength="63.1" lengthAdjust="spacing">07:00:00</text>
<text transform="translate(469.9 610.7) rotate(-90)" text-anchor="end" textLength="63.1" lengthAdjust="spacing">08:00:00</text>
<text transform="translate(518.9 610.7) rotate(-90)" text-anchor="end" textLength="63.1" lengthAdjust="spacing">09:00:00</text>
<text transform="translate(567.9 610.7) rotate(-90)" text-anchor="end" textLength="63.1" lengthAdjust="spacing">10:00:00</text>
<text transform="translate(616.9 610.7) rotate(-90)" text-anchor="end" textLength="63.1" lengthAdjust="spacing">11:00:00</text>
<text transform="translate(665.9 610.7) rotate(-90)" text-anchor="end" textLength="63.1" lengthAdjust="spacing">12:00:00</text>
<text transform="translate(713.9 610.7) rotate(-90)" text-anchor="end" textLength="63.1" lengthAdjust="spacing">13:00:00</text>
<text transform="translate(762.9 610.7) rotate(-90)" text-anchor="end" textLength="63.1" lengthAdjust="spacing">14:00:00</text>
<text transform="translate(811.9 610.7) rotate(-90)" text-anchor="end" textLength="63.1" lengthAdjust="spacing">15:00:00</text>
<text transform="translate(860.9 610.7) rotate(-90)" text-anchor="end" textLength="63.1" lengthAdjust="spacing">16:00:00</text>
<text transform="translate(909.9 610.7) rotate(-90)" text-anchor="end" textLength="63.1" lengthAdjust="spacing">17:00:00</text>
<text transform="translate(958.9 610.7) rotate(-90)" text-anchor="end" textLength="63.1" lengthAdjust="spacing">18:00:00</text>
<text transform="translate(1007.9 610.7) rotate(-90)" text-anchor="end" textLength="63.1" lengthAdjust="spacing">19:00:00</text>
<text transform="translate(1056.9 610.7) rotate(-90)" text-anchor="end" textLength="63.1" lengthAdjust="spacing">20:00:00</text>
<text transform="translate(1105.9 610.7) rotate(-90)" text-anchor="end" textLength="63.1" lengthAdjust="spacing">21:00:00</text>
<text transform="translate(1154.9 610.7) rotate(-90)" text-anchor="end" textLength="63.1" lengthAdjust="spacing">22:00:00</text>
<text transform="translate(1203.9 610.7) rotate(-90)" text-anchor="end" textLength="63.1" lengthAdjust="spacing">23:00:00</text>
<text transform="translate(1252.9 610.7) rotate(-90)" text-anchor="end" textLength="63.1" lengthAdjust="spacing">00:00:00</text>
<text x="297" y="32.8" textLength="723.75" lengthAdjust="spacing">Messpunkt: Delbrück-Bentfeld (33129) | Feinstaub Tagesverlauf am 2026-01-21 | Stand: 23:59:01 Uhr</text>
<text x="659.7" y="710.8" text-anchor="middle">Uhrzeit</text>
<text transform="translate(18.9 328.45) rotate(-90)" text-anchor="middle" textLength="229" lengthAdjust="spacing">Particulate Matter (PM) in µg/m³</text>
<text x="181.2" y="79.2" text-anchor="end">PM 2.5</text>
<path d="M194 74.5H242" stroke="#ff0000" stroke-width="1" shape-rendering="crispEdges"/>
<text x="181.5" y="98.2" text-anchor="end">PM 10</text>
<path d="M194 93.5H242" stroke="#0000ff" stroke-width="1" shape-rendering="crispEdges"/>
<text x="181.2" y="117.2" text-anchor="end">PM 2.5 Ø</text>
<path d="M193 112.5H243" stroke="#ff0000" stroke-width="3" shape-rendering="crispEdges"/>
<text x="180.3" y="136.2" text-anchor="end">PM 10 Ø</text>
<path d="M193 131.5H243" stroke="#0000ff" stroke-width="3" shape-rendering="crispEdges"/>
<text x="759" y="84" fill="#ff0000">PM 2.5 Max = 12.3 µg/m³</text>
<text x="759" y="110.8" fill="#ff0000">PM 2.5 Min = 6.7 µg/m³</text>
<text x="759" y="137.6" fill="#ff0000">PM 2.5 Ø = 9.38881 µg/m³</text>
<text x="1029" y="84" fill="#0000ff">PM 10 Max = 24.5 µg/m³</text>
<text x="1029" y="110.8" fill="#0000ff">PM 10 Min = 11.8 µg/m³</text>
<text x="1029" y="137.6" fill="#0000ff">PM 10 Ø = 16.9263 µg/m³</text>
</svg></body></html>
